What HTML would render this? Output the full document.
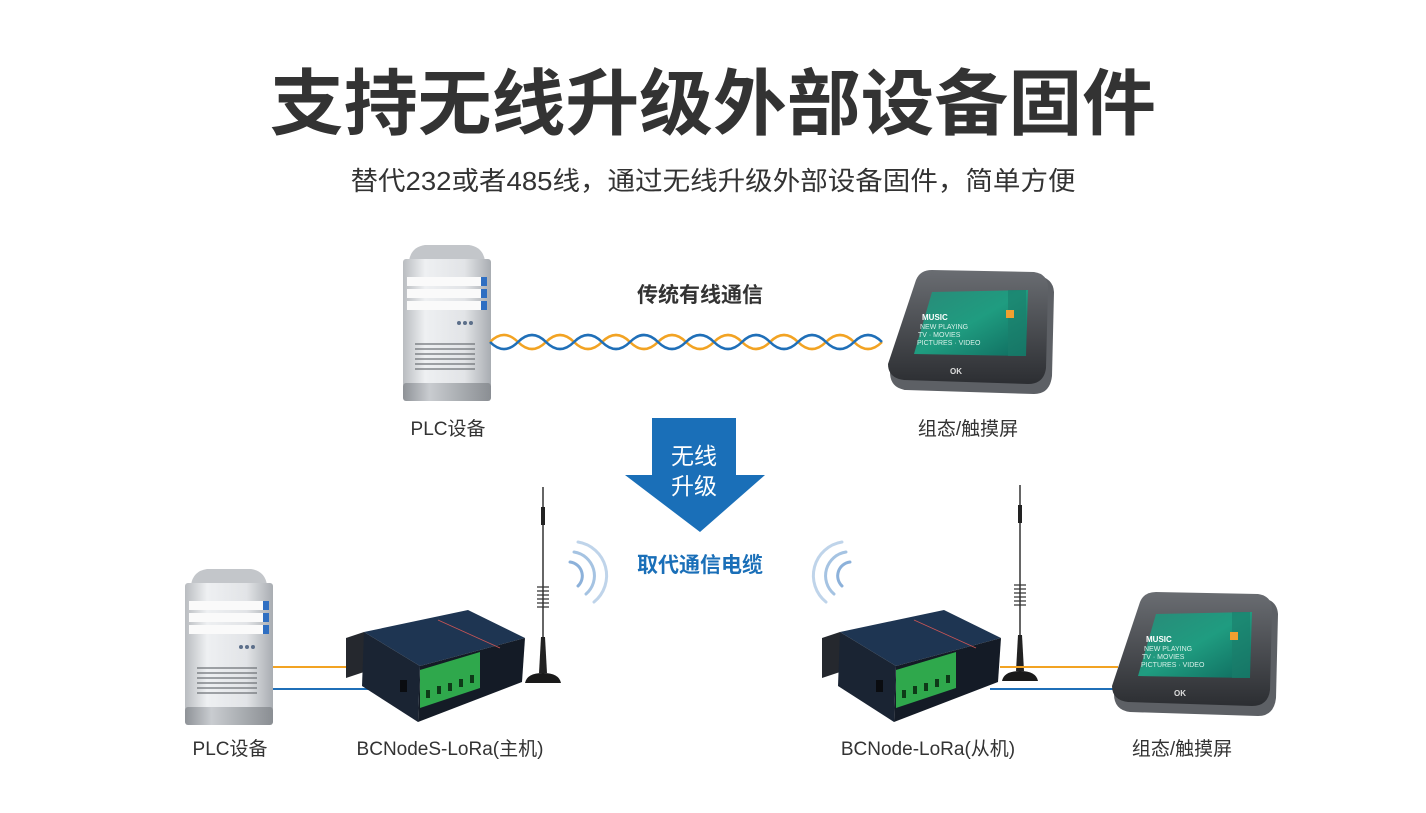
<!DOCTYPE html>
<html><head><meta charset="utf-8"><style>
html,body{margin:0;padding:0;background:#fff;}
svg{display:block;}
text{font-family:"Liberation Sans","Noto Sans CJK SC",sans-serif;}
</style></head><body>
<svg width="1426" height="813" viewBox="0 0 1426 813" xmlns="http://www.w3.org/2000/svg">
<defs>
<linearGradient id="sv" x1="0" x2="1" y1="0" y2="0">
<stop offset="0" stop-color="#b9bcc0"/><stop offset="0.25" stop-color="#eef0f2"/><stop offset="0.7" stop-color="#e2e4e7"/><stop offset="1" stop-color="#a9adb2"/></linearGradient>
<linearGradient id="svb" x1="0" x2="1"><stop offset="0" stop-color="#8e9297"/><stop offset="0.3" stop-color="#c9ccd0"/><stop offset="1" stop-color="#8a8e93"/></linearGradient>
<linearGradient id="scr" x1="0" x2="1" y1="0" y2="1"><stop offset="0" stop-color="#2a8a78"/><stop offset="0.5" stop-color="#1f9c80"/><stop offset="1" stop-color="#0f6a5e"/></linearGradient>
<linearGradient id="bez" x1="0" x2="0" y1="0" y2="1"><stop offset="0" stop-color="#6a6d72"/><stop offset="1" stop-color="#2c2e32"/></linearGradient>
<g id="server">
<path d="M6 18 Q8 4 22 2 L66 2 Q80 4 82 18 Z" fill="#c3c6ca"/>
<rect x="0" y="16" width="88" height="128" rx="3" fill="url(#sv)"/>
<rect x="0" y="140" width="88" height="18" rx="3" fill="url(#svb)"/>
<rect x="4" y="34" width="76" height="9" fill="#fafafa"/><rect x="78" y="34" width="6" height="9" fill="#2f6fc2"/>
<rect x="4" y="46" width="76" height="9" fill="#fafafa"/><rect x="78" y="46" width="6" height="9" fill="#2f6fc2"/>
<rect x="4" y="58" width="76" height="9" fill="#fafafa"/><rect x="78" y="58" width="6" height="9" fill="#2f6fc2"/>
<circle cx="56" cy="80" r="2" fill="#5c6f8a"/><circle cx="62" cy="80" r="2" fill="#5c6f8a"/><circle cx="68" cy="80" r="2" fill="#5c6f8a"/>
<g stroke="#6d7176" stroke-width="1.3"><line x1="12" y1="101" x2="72" y2="101"/><line x1="12" y1="106" x2="72" y2="106"/><line x1="12" y1="111" x2="72" y2="111"/><line x1="12" y1="116" x2="72" y2="116"/><line x1="12" y1="121" x2="72" y2="121"/><line x1="12" y1="126" x2="72" y2="126"/></g>
</g>
<g id="screen">
<path d="M30 10 Q34 0 46 0 L150 4 Q165 6 166 20 L164 104 Q162 122 146 122 L18 118 Q2 116 2 100 Z" fill="#5d6065"/>
<path d="M28 8 Q32 -2 44 -2 L146 0 Q160 2 160 16 L158 96 Q156 112 140 112 L16 108 Q0 106 0 92 Z" fill="url(#bez)"/>
<path d="M44 20 L140 18 L138 84 L26 82 Z" fill="url(#scr)"/>
<rect x="120" y="18" width="18" height="66" fill="#1b7d6a" opacity="0.6"/>
<text x="34" y="48" font-size="8" fill="#fff" font-weight="bold">MUSIC</text>
<text x="32" y="57" font-size="7" fill="#d8f0e8">NEW PLAYING</text>
<text x="30" y="65" font-size="7" fill="#d8f0e8">TV · MOVIES</text>
<text x="29" y="73" font-size="7" fill="#d8f0e8">PICTURES · VIDEO</text>
<rect x="118" y="38" width="8" height="8" fill="#f0a030"/>
<text x="62" y="102" font-size="8" fill="#ddd" font-weight="bold">OK</text>
</g>
<g id="device">
<path d="M-4 28 L14 22 L14 62 L-4 68 Z" fill="#25282e"/>
<path d="M14 22 L118 0 L175 28 L70 56 Z" fill="#1e3552"/>
<path d="M70 56 L175 28 L172 72 L68 112 Z" fill="#141b26"/>
<path d="M14 22 L70 56 L68 112 L12 76 Z" fill="#1a2433"/>
<line x1="88" y1="10" x2="150" y2="38" stroke="#c55" stroke-width="0.8"/>
<path d="M70 60 L130 42 L130 78 L70 98 Z" fill="#2fa84c"/>
<g fill="#0e3a18"><rect x="76" y="80" width="4" height="8"/><rect x="87" y="76" width="4" height="8"/><rect x="98" y="73" width="4" height="8"/><rect x="109" y="69" width="4" height="8"/><rect x="120" y="65" width="4" height="8"/></g>
<rect x="50" y="70" width="7" height="12" fill="#0a0c10"/>
</g>
<g id="ant">
<line x1="0" y1="0" x2="0" y2="190" stroke="#333" stroke-width="1.5"/>
<rect x="-2" y="20" width="4" height="18" fill="#222"/>
<g stroke="#333" stroke-width="1.3" fill="none"><path d="M-6 100 h12 M-6 104 h12 M-6 108 h12 M-6 112 h12 M-6 116 h12 M-6 120 h12"/></g>
<path d="M-2 150 L2 150 L4 186 L-4 186 Z" fill="#222"/>
<path d="M-18 196 Q-16 186 0 186 Q16 186 18 196 Z" fill="#1a1a1a"/>
</g>
<g id="wifi" fill="none" stroke="#7fa9d6" stroke-width="3" stroke-linecap="round">
<path d="M0 -10 A14 14 0 0 1 8 14" opacity="0.9"/>
<path d="M4 -20 A24 24 0 0 1 16 22" opacity="0.7"/>
<path d="M8 -30 A34 34 0 0 1 24 30" opacity="0.5"/>
</g>
</defs>

<text x="713" y="129" font-size="72" font-weight="bold" fill="#333" text-anchor="middle" textLength="886" lengthAdjust="spacingAndGlyphs">支持无线升级外部设备固件</text>
<text x="713" y="190" font-size="26" fill="#333" text-anchor="middle" textLength="725" lengthAdjust="spacingAndGlyphs">替代232或者485线，通过无线升级外部设备固件，简单方便</text>

<use href="#server" x="403" y="243"/>
<text x="448" y="435" font-size="19" fill="#333" text-anchor="middle">PLC设备</text>
<text x="700" y="302" font-size="21" font-weight="bold" fill="#333" text-anchor="middle">传统有线通信</text>
<path d="M490 342 q14 -14 28 0 t28 0 t28 0 t28 0 t28 0 t28 0 t28 0 t28 0 t28 0 t28 0 t28 0 t28 0 t28 0 t28 0" fill="none" stroke="#f2a323" stroke-width="2.5"/>
<path d="M490 342 q14 14 28 0 t28 0 t28 0 t28 0 t28 0 t28 0 t28 0 t28 0 t28 0 t28 0 t28 0 t28 0 t28 0 t28 0" fill="none" stroke="#1f6fb8" stroke-width="2.5"/>
<use href="#screen" x="888" y="272"/>
<text x="968" y="435" font-size="19" fill="#333" text-anchor="middle">组态/触摸屏</text>

<path d="M652 418 L736 418 L736 475 L765 475 L700 532 L625 475 L652 475 Z" fill="#1a6fb8"/>
<text x="694" y="464" font-size="23" fill="#fff" text-anchor="middle">无线</text>
<text x="694" y="494" font-size="23" fill="#fff" text-anchor="middle">升级</text>
<text x="700" y="572" font-size="21" font-weight="bold" fill="#1a6fb8" text-anchor="middle">取代通信电缆</text>

<use href="#server" x="185" y="567"/>
<line x1="273" y1="667" x2="352" y2="667" stroke="#f2a323" stroke-width="2"/>
<line x1="273" y1="689" x2="385" y2="689" stroke="#1f6fb8" stroke-width="2"/>
<use href="#ant" x="543" y="487"/>
<use href="#wifi" x="570" y="572"/>
<use href="#device" x="350" y="610"/>
<text x="230" y="755" font-size="19" fill="#333" text-anchor="middle">PLC设备</text>
<text x="450" y="755" font-size="19" fill="#333" text-anchor="middle">BCNodeS-LoRa(主机)</text>

<use href="#ant" x="1020" y="485"/>
<g transform="translate(850 572) scale(-1 1)"><use href="#wifi"/></g>
<line x1="1000" y1="667" x2="1118" y2="667" stroke="#f2a323" stroke-width="2"/>
<line x1="990" y1="689" x2="1118" y2="689" stroke="#1f6fb8" stroke-width="2"/>
<use href="#device" x="826" y="610"/>
<use href="#screen" x="1112" y="594"/>
<text x="928" y="755" font-size="19" fill="#333" text-anchor="middle">BCNode-LoRa(从机)</text>
<text x="1182" y="755" font-size="19" fill="#333" text-anchor="middle">组态/触摸屏</text>
</svg>
</body></html>
